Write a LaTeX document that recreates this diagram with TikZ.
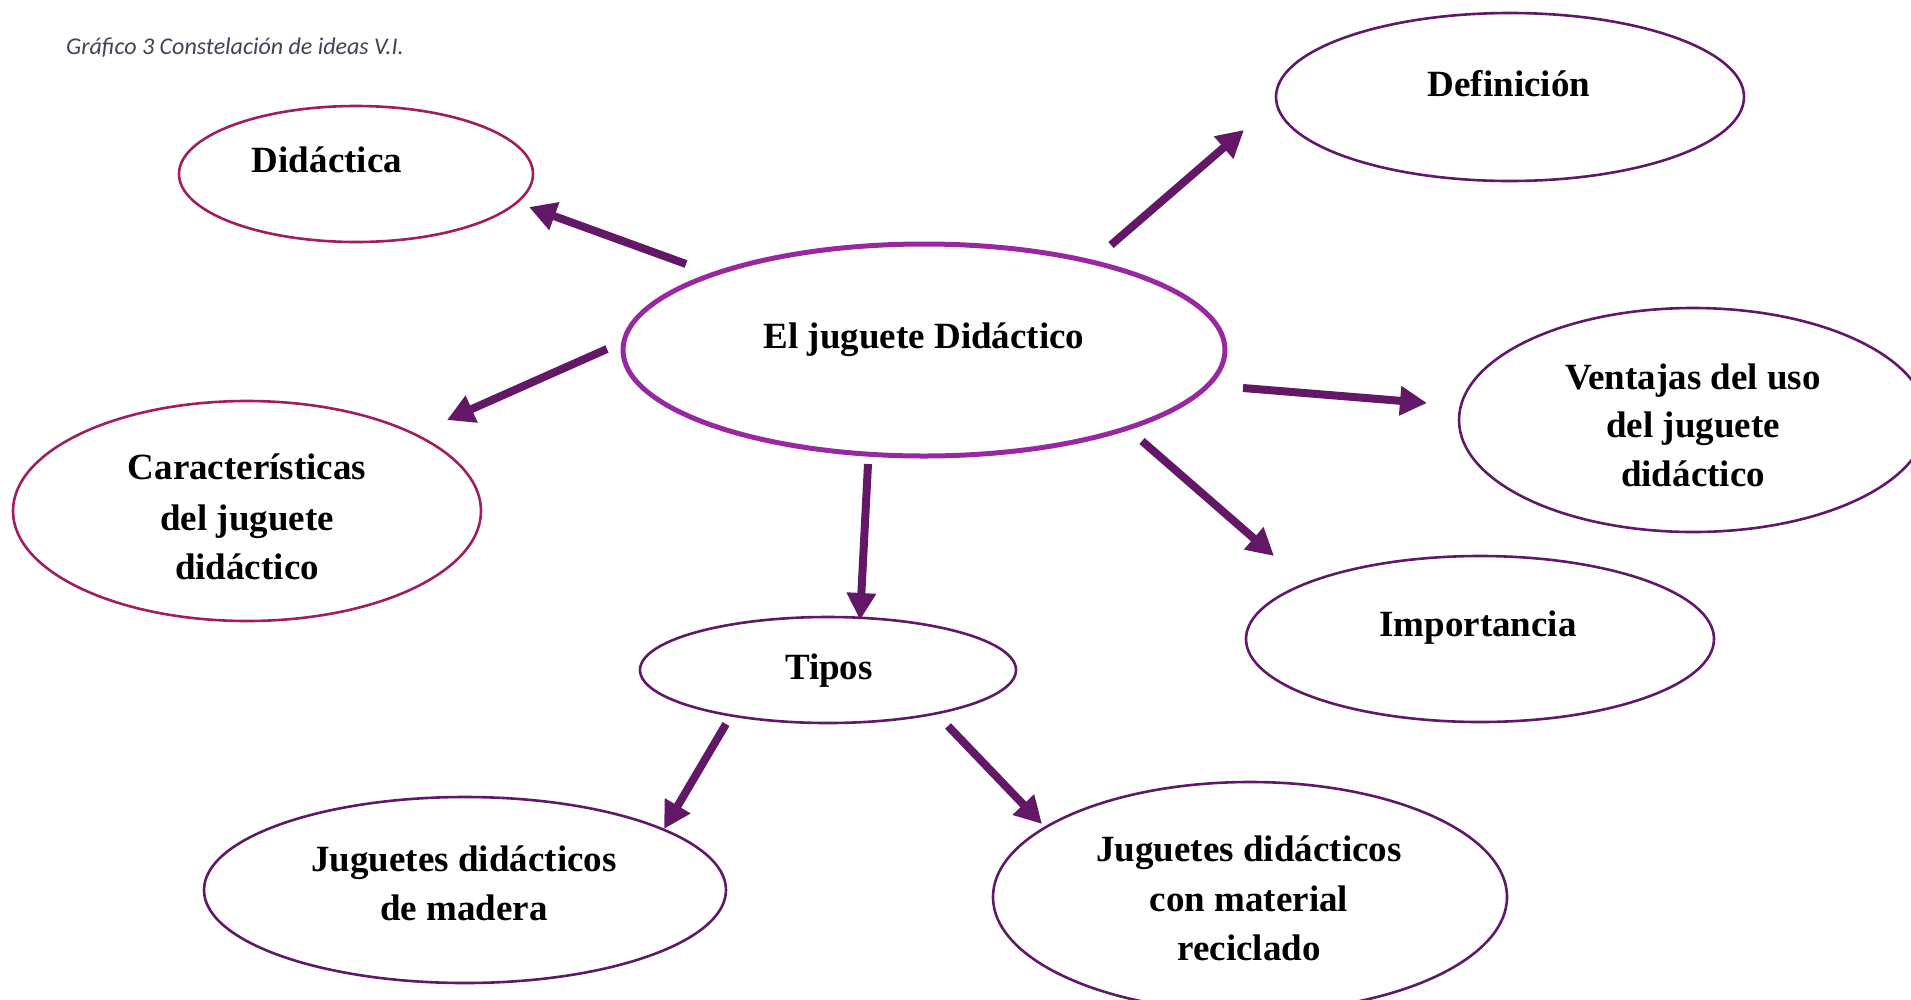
\documentclass[tikz,border=0pt]{standalone}
\usepackage{fontspec}
\setmainfont{Liberation Serif}
\newfontfamily\capfont{Carlito}
\usetikzlibrary{shapes.geometric,arrows.meta}
\definecolor{magc}{RGB}{160,30,95}
\definecolor{cenc}{RGB}{152,40,160}
\definecolor{darkc}{RGB}{96,24,104}
\definecolor{arrc}{RGB}{98,24,102}
\definecolor{capc}{RGB}{64,68,84}
\tikzset{
  ell/.style={ellipse, draw=darkc, line width=2.6pt, inner sep=0pt, fill=white},
  lbl/.style={anchor=base, font=\bfseries\fontsize{37}{50}\selectfont, inner sep=0pt},
  arr/.style={line width=8pt, draw=arrc, fill=arrc, -{Triangle[length=27pt,width=28pt]}},
}
\begin{document}
\begin{tikzpicture}[x=1pt,y=-1pt]
\useasboundingbox (0,0) rectangle (1911,999);
\clip (0,0) rectangle (1911,999);
% caption
\node[anchor=base west, inner sep=0pt, text=capc, font=\capfont\itshape\fontsize{24}{28}\selectfont] (cap) at (66,54) {Gráfico 3 Constelación de ideas V.I.};
% ellipses
\node[ell, draw=magc, minimum width=354pt, minimum height=136pt] (did) at (356,174) {};
\node[ell, draw=cenc, line width=5pt, minimum width=602pt, minimum height=212pt] (cen) at (924,350) {};
\node[ell, minimum width=468pt, minimum height=168pt] (def) at (1510,97) {};
\node[ell, draw=magc, minimum width=468pt, minimum height=220pt] (car) at (247,511) {};
\node[ell, minimum width=468pt, minimum height=224pt] (ven) at (1693,420) {};
\node[ell, minimum width=468pt, minimum height=166pt] (imp) at (1480,639) {};
\node[ell, minimum width=376pt, minimum height=106pt] (tip) at (828,670) {};
\node[ell, minimum width=522pt, minimum height=186pt] (mad) at (465,890) {};
\node[ell, minimum width=514pt, minimum height=230pt] (rec) at (1250,897) {};
% texts
\node[lbl] (tdid) at (327,172) {Didáctica};
\node[lbl] (tcen) at (924,348) {El juguete Didáctico};
\node[lbl] (tdef) at (1509,96) {Definición};
\node[lbl] (tcar1) at (247,479) {Características};
\node[lbl] (tcar2) at (247,530) {del juguete};
\node[lbl] (tcar3) at (247,579) {didáctico};
\node[lbl] (tven1) at (1693,389) {Ventajas del uso};
\node[lbl] (tven2) at (1693,437) {del juguete};
\node[lbl] (tven3) at (1693,486) {didáctico};
\node[lbl] (timp) at (1478,636) {Importancia};
\node[lbl] (ttip) at (829,679) {Tipos};
\node[lbl] (tmad1) at (464,871) {Juguetes didácticos};
\node[lbl] (tmad2) at (464,920) {de madera};
\node[lbl] (trec1) at (1249,861) {Juguetes didácticos};
\node[lbl] (trec2) at (1249,911) {con material};
\node[lbl] (trec3) at (1249,960) {reciclado};
% arrow end points
\coordinate (a1) at (686,264);  \coordinate (a2) at (529,207);
\coordinate (b1) at (607,349);  \coordinate (b2) at (447,420);
\coordinate (c1) at (1111,245); \coordinate (c2) at (1244,130);
\coordinate (d1) at (1243,388); \coordinate (d2) at (1427,403);
\coordinate (e1) at (1142,441); \coordinate (e2) at (1274,556);
\coordinate (f1) at (868,464);  \coordinate (f2) at (860,620);
\coordinate (g1) at (726,724);  \coordinate (g2) at (664,829);
\coordinate (h1) at (948,726);  \coordinate (h2) at (1042,824);
\draw[arr] (a1) -- (a2);
\draw[arr] (b1) -- (b2);
\draw[arr] (c1) -- (c2);
\draw[arr] (d1) -- (d2);
\draw[arr] (e1) -- (e2);
\draw[arr] (f1) -- (f2);
\draw[arr] (g1) -- (g2);
\draw[arr] (h1) -- (h2);
\end{tikzpicture}
\end{document}
